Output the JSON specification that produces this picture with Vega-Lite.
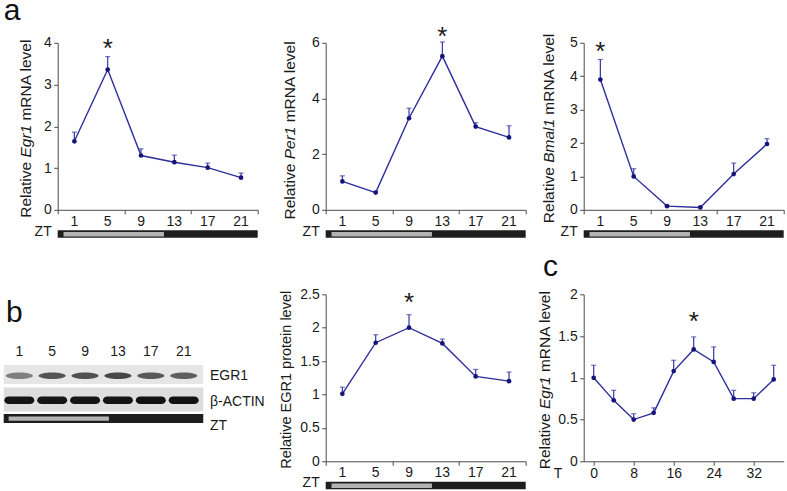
{
"$schema": "https://vega.github.io/schema/vega-lite/v6.json",
"background": "white",
"padding": {"left": 2.7, "top": -4.2, "right": 0, "bottom": 0},
"config": {
 "view": {"stroke": null},
 "font": "Liberation Sans",
 "axis": {"domainColor": "#4a4a4a", "tickColor": "#4a4a4a", "labelColor": "#1a1a1a", "labelFont": "Liberation Sans", "labelFontSize": 14, "titleFont": "Liberation Sans", "titleFontWeight": "normal", "titleColor": "#1a1a1a", "titleFontSize": 14, "grid": false, "tickSize": 4, "labelFlush": false, "labelOverlap": false, "labelBound": false, "domainWidth": 1, "tickWidth": 1},
 "text": {"font": "Liberation Sans", "color": "#1a1a1a"}
},
"datasets": {
 "zt": [{"phase": "dark", "start": -1, "end": 23}, {"phase": "light", "start": -0.3, "end": 11.75}],
 "egr1": [{"ZT": 1, "mean": 1.64, "err": 1.86, "sig": false}, {"ZT": 5, "mean": 3.36, "err": 3.67, "sig": true}, {"ZT": 9, "mean": 1.30, "err": 1.46, "sig": false}, {"ZT": 13, "mean": 1.14, "err": 1.31, "sig": false}, {"ZT": 17, "mean": 1.01, "err": 1.12, "sig": false}, {"ZT": 21, "mean": 0.77, "err": 0.88, "sig": false}],
 "per1": [{"ZT": 1, "mean": 1.02, "err": 1.22, "sig": false}, {"ZT": 5, "mean": 0.62, "err": 0.66, "sig": false}, {"ZT": 9, "mean": 3.29, "err": 3.65, "sig": false}, {"ZT": 13, "mean": 5.52, "err": 6.03, "sig": true}, {"ZT": 17, "mean": 2.99, "err": 3.13, "sig": false}, {"ZT": 21, "mean": 2.60, "err": 3.02, "sig": false}],
 "bmal1": [{"ZT": 1, "mean": 3.90, "err": 4.50, "sig": true}, {"ZT": 5, "mean": 1.00, "err": 1.23, "sig": false}, {"ZT": 9, "mean": 0.11, "err": 0.13, "sig": false}, {"ZT": 13, "mean": 0.07, "err": 0.09, "sig": false}, {"ZT": 17, "mean": 1.07, "err": 1.40, "sig": false}, {"ZT": 21, "mean": 1.97, "err": 2.13, "sig": false}],
 "protein": [{"ZT": 1, "mean": 1.01, "err": 1.11, "sig": false}, {"ZT": 5, "mean": 1.775, "err": 1.895, "sig": false}, {"ZT": 9, "mean": 2.00, "err": 2.195, "sig": true}, {"ZT": 13, "mean": 1.765, "err": 1.83, "sig": false}, {"ZT": 17, "mean": 1.27, "err": 1.375, "sig": false}, {"ZT": 21, "mean": 1.20, "err": 1.335, "sig": false}],
 "cosc": [{"T": 0, "mean": 1.00, "err": 1.15, "sig": false}, {"T": 4, "mean": 0.73, "err": 0.85, "sig": false}, {"T": 8, "mean": 0.50, "err": 0.57, "sig": false}, {"T": 12, "mean": 0.58, "err": 0.64, "sig": false}, {"T": 16, "mean": 1.08, "err": 1.21, "sig": false}, {"T": 20, "mean": 1.34, "err": 1.49, "sig": true}, {"T": 24, "mean": 1.19, "err": 1.37, "sig": false}, {"T": 28, "mean": 0.75, "err": 0.85, "sig": false}, {"T": 32, "mean": 0.75, "err": 0.82, "sig": false}, {"T": 36, "mean": 0.98, "err": 1.15, "sig": false}],
 "blot": [{"ZT": 1, "protein": "EGR1", "intensity": 0.55}, {"ZT": 5, "protein": "EGR1", "intensity": 0.78}, {"ZT": 9, "protein": "EGR1", "intensity": 0.8}, {"ZT": 13, "protein": "EGR1", "intensity": 0.85}, {"ZT": 17, "protein": "EGR1", "intensity": 0.75}, {"ZT": 21, "protein": "EGR1", "intensity": 0.72}, {"ZT": 1, "protein": "ACTIN", "intensity": 0.95}, {"ZT": 5, "protein": "ACTIN", "intensity": 0.95}, {"ZT": 9, "protein": "ACTIN", "intensity": 0.95}, {"ZT": 13, "protein": "ACTIN", "intensity": 0.95}, {"ZT": 17, "protein": "ACTIN", "intensity": 0.97}, {"ZT": 21, "protein": "ACTIN", "intensity": 0.97}]
},
"columns": 3,
"spacing": {"row": 84.5, "column": 58},
"bounds": "flush",
"concat": [
 {
  "width": 200, "height": 167,
  "resolve": {"scale": {"y": "independent"}},
  "layer": [
   {"data": {"name": "zt"}, "layer": [
    {"transform": [{"filter": "datum.phase == 'dark'"}], "mark": {"type": "rect", "color": "#1e1e1e"},
     "encoding": {"x": {"field": "start", "type": "quantitative", "scale": {"domain": [-1, 23], "nice": false, "zero": false}, "axis": {"values": [-1, 3, 7, 11, 15, 19, 23], "labels": false, "title": "ZT", "titleX": -6.5, "titleY": 21.5, "titleAlign": "right", "titleBaseline": "middle", "titleAngle": 0}}, "x2": {"field": "end"}, "y": {"datum": -0.1228, "type": "quantitative", "scale": {"domain": [0, 1], "nice": false}, "axis": null}, "y2": {"datum": -0.1677}}},
    {"transform": [{"filter": "datum.phase == 'light'"}], "mark": {"type": "rect", "color": "#b3b3b3"},
     "encoding": {"x": {"field": "start", "type": "quantitative", "scale": {"domain": [-1, 23], "nice": false, "zero": false}}, "x2": {"field": "end"}, "y": {"datum": -0.1329, "type": "quantitative", "scale": {"domain": [0, 1], "nice": false}}, "y2": {"datum": -0.1593}}}
   ]},
   {"data": {"name": "egr1"},
    "encoding": {"x": {"field": "ZT", "type": "quantitative", "scale": {"domain": [-1, 23], "nice": false, "zero": false}}, "y": {"field": "mean", "type": "quantitative", "scale": {"domain": [0, 4], "nice": false}, "axis": {"values": [0, 1, 2, 3, 4], "title": null, "orient": "left", "labelPadding": 2.5}}},
    "layer": [
     {"mark": {"type": "rule", "color": "#3636a4", "strokeWidth": 1.2}, "encoding": {"y2": {"field": "err"}}},
     {"mark": {"type": "tick", "orient": "horizontal", "color": "#3636a4", "size": 5, "thickness": 1.2}, "encoding": {"y": {"field": "err", "type": "quantitative", "scale": {"domain": [0, 4], "nice": false}}}},
     {"mark": {"type": "line", "color": "#2e2e9c", "strokeWidth": 1.4}},
     {"mark": {"type": "point", "filled": true, "color": "#14147a", "size": 22, "opacity": 1}},
     {"transform": [{"filter": "datum.sig"}], "mark": {"type": "text", "text": "*", "fontSize": 26, "baseline": "alphabetic", "dy": 0.6}, "encoding": {"y": {"field": "err", "type": "quantitative", "scale": {"domain": [0, 4], "nice": false}}}}
    ]},
   {"data": {"name": "egr1"}, "mark": {"type": "text", "fontSize": 14, "baseline": "middle", "align": "center", "dy": 12.5}, "encoding": {"x": {"field": "ZT", "type": "quantitative", "scale": {"domain": [-1, 23], "nice": false, "zero": false}}, "y": {"datum": 0, "type": "quantitative", "scale": {"domain": [0, 4], "nice": false}, "axis": null}, "text": {"field": "ZT", "type": "quantitative"}}},
   {"data": {"values": [{}]}, "layer": [
     {"mark": {"type": "text", "text": "a", "fontSize": 30, "align": "left", "baseline": "alphabetic", "dx": -54, "dy": -22.5, "color": "#111111"}, "encoding": {"x": {"datum": -1, "type": "quantitative", "scale": {"domain": [-1, 23], "nice": false, "zero": false}}, "y": {"datum": 4, "type": "quantitative", "scale": {"domain": [0, 4], "nice": false}, "axis": null}}},
     {"mark": {"type": "text", "text": "Relative", "angle": 270, "align": "right", "baseline": "middle", "fontSize": 15.5, "dx": -35.55, "dy": -32}, "encoding": {"x": {"datum": -1, "type": "quantitative"}, "y": {"datum": 2, "type": "quantitative"}}},
     {"mark": {"type": "text", "text": "Egr1", "fontStyle": "italic", "angle": 270, "align": "center", "baseline": "middle", "fontSize": 15.5, "dx": -14.9, "dy": -32}, "encoding": {"x": {"datum": -1, "type": "quantitative"}, "y": {"datum": 2, "type": "quantitative"}}},
     {"mark": {"type": "text", "text": "mRNA level", "angle": 270, "align": "left", "baseline": "middle", "fontSize": 15.5, "dx": 5.75, "dy": -32}, "encoding": {"x": {"datum": -1, "type": "quantitative"}, "y": {"datum": 2, "type": "quantitative"}}}
   ]}
  ]
 },
 {
  "width": 200, "height": 167,
  "resolve": {"scale": {"y": "independent"}},
  "layer": [
   {"data": {"name": "zt"}, "layer": [
    {"transform": [{"filter": "datum.phase == 'dark'"}], "mark": {"type": "rect", "color": "#1e1e1e"},
     "encoding": {"x": {"field": "start", "type": "quantitative", "scale": {"domain": [-1, 23], "nice": false, "zero": false}, "axis": {"values": [-1, 3, 7, 11, 15, 19, 23], "labels": false, "title": "ZT", "titleX": -6.5, "titleY": 21.5, "titleAlign": "right", "titleBaseline": "middle", "titleAngle": 0}}, "x2": {"field": "end"}, "y": {"datum": -0.1228, "type": "quantitative", "scale": {"domain": [0, 1], "nice": false}, "axis": null}, "y2": {"datum": -0.1677}}},
    {"transform": [{"filter": "datum.phase == 'light'"}], "mark": {"type": "rect", "color": "#b3b3b3"},
     "encoding": {"x": {"field": "start", "type": "quantitative", "scale": {"domain": [-1, 23], "nice": false, "zero": false}}, "x2": {"field": "end"}, "y": {"datum": -0.1329, "type": "quantitative", "scale": {"domain": [0, 1], "nice": false}}, "y2": {"datum": -0.1593}}}
   ]},
   {"data": {"name": "per1"},
    "encoding": {"x": {"field": "ZT", "type": "quantitative", "scale": {"domain": [-1, 23], "nice": false, "zero": false}}, "y": {"field": "mean", "type": "quantitative", "scale": {"domain": [0, 6], "nice": false}, "axis": {"values": [0, 2, 4, 6], "title": null, "orient": "left", "labelPadding": 2.5}}},
    "layer": [
     {"mark": {"type": "rule", "color": "#3636a4", "strokeWidth": 1.2}, "encoding": {"y2": {"field": "err"}}},
     {"mark": {"type": "tick", "orient": "horizontal", "color": "#3636a4", "size": 5, "thickness": 1.2}, "encoding": {"y": {"field": "err", "type": "quantitative", "scale": {"domain": [0, 6], "nice": false}}}},
     {"mark": {"type": "line", "color": "#2e2e9c", "strokeWidth": 1.4}},
     {"mark": {"type": "point", "filled": true, "color": "#14147a", "size": 22, "opacity": 1}},
     {"transform": [{"filter": "datum.sig"}], "mark": {"type": "text", "text": "*", "fontSize": 26, "baseline": "alphabetic", "dy": 3.4}, "encoding": {"y": {"field": "err", "type": "quantitative", "scale": {"domain": [0, 6], "nice": false}}}}
    ]},
   {"data": {"name": "per1"}, "mark": {"type": "text", "fontSize": 14, "baseline": "middle", "align": "center", "dy": 12.5}, "encoding": {"x": {"field": "ZT", "type": "quantitative", "scale": {"domain": [-1, 23], "nice": false, "zero": false}}, "y": {"datum": 0, "type": "quantitative", "scale": {"domain": [0, 6], "nice": false}, "axis": null}, "text": {"field": "ZT", "type": "quantitative"}}},
   {"data": {"values": [{}]}, "layer": [
     {"mark": {"type": "text", "text": "Relative", "angle": 270, "align": "right", "baseline": "middle", "fontSize": 15.5, "dx": -37.3, "dy": -35.5}, "encoding": {"x": {"datum": -1, "type": "quantitative", "scale": {"domain": [-1, 23], "nice": false, "zero": false}}, "y": {"datum": 3, "type": "quantitative", "scale": {"domain": [0, 6], "nice": false}, "axis": null}}},
     {"mark": {"type": "text", "text": "Per1", "fontStyle": "italic", "angle": 270, "align": "center", "baseline": "middle", "fontSize": 15.5, "dx": -16.6, "dy": -35.5}, "encoding": {"x": {"datum": -1, "type": "quantitative"}, "y": {"datum": 3, "type": "quantitative"}}},
     {"mark": {"type": "text", "text": "mRNA level", "angle": 270, "align": "left", "baseline": "middle", "fontSize": 15.5, "dx": 4.0, "dy": -35.5}, "encoding": {"x": {"datum": -1, "type": "quantitative"}, "y": {"datum": 3, "type": "quantitative"}}}
   ]}
  ]
 },
 {
  "width": 200, "height": 167,
  "resolve": {"scale": {"y": "independent"}},
  "layer": [
   {"data": {"name": "zt"}, "layer": [
    {"transform": [{"filter": "datum.phase == 'dark'"}], "mark": {"type": "rect", "color": "#1e1e1e"},
     "encoding": {"x": {"field": "start", "type": "quantitative", "scale": {"domain": [-1, 23], "nice": false, "zero": false}, "axis": {"values": [-1, 3, 7, 11, 15, 19, 23], "labels": false, "title": "ZT", "titleX": -6.5, "titleY": 21.5, "titleAlign": "right", "titleBaseline": "middle", "titleAngle": 0}}, "x2": {"field": "end"}, "y": {"datum": -0.1228, "type": "quantitative", "scale": {"domain": [0, 1], "nice": false}, "axis": null}, "y2": {"datum": -0.1677}}},
    {"transform": [{"filter": "datum.phase == 'light'"}], "mark": {"type": "rect", "color": "#b3b3b3"},
     "encoding": {"x": {"field": "start", "type": "quantitative", "scale": {"domain": [-1, 23], "nice": false, "zero": false}}, "x2": {"field": "end"}, "y": {"datum": -0.1329, "type": "quantitative", "scale": {"domain": [0, 1], "nice": false}}, "y2": {"datum": -0.1593}}}
   ]},
   {"data": {"name": "bmal1"},
    "encoding": {"x": {"field": "ZT", "type": "quantitative", "scale": {"domain": [-1, 23], "nice": false, "zero": false}}, "y": {"field": "mean", "type": "quantitative", "scale": {"domain": [0, 5], "nice": false}, "axis": {"values": [0, 1, 2, 3, 4, 5], "title": null, "orient": "left", "labelPadding": 2.5}}},
    "layer": [
     {"mark": {"type": "rule", "color": "#3636a4", "strokeWidth": 1.2}, "encoding": {"y2": {"field": "err"}}},
     {"mark": {"type": "tick", "orient": "horizontal", "color": "#3636a4", "size": 5, "thickness": 1.2}, "encoding": {"y": {"field": "err", "type": "quantitative", "scale": {"domain": [0, 5], "nice": false}}}},
     {"mark": {"type": "line", "color": "#2e2e9c", "strokeWidth": 1.4}},
     {"mark": {"type": "point", "filled": true, "color": "#14147a", "size": 22, "opacity": 1}},
     {"transform": [{"filter": "datum.sig"}], "mark": {"type": "text", "text": "*", "fontSize": 26, "baseline": "alphabetic", "dy": 0.7}, "encoding": {"y": {"field": "err", "type": "quantitative", "scale": {"domain": [0, 5], "nice": false}}}}
    ]},
   {"data": {"name": "bmal1"}, "mark": {"type": "text", "fontSize": 14, "baseline": "middle", "align": "center", "dy": 12.5}, "encoding": {"x": {"field": "ZT", "type": "quantitative", "scale": {"domain": [-1, 23], "nice": false, "zero": false}}, "y": {"datum": 0, "type": "quantitative", "scale": {"domain": [0, 5], "nice": false}, "axis": null}, "text": {"field": "ZT", "type": "quantitative"}}},
   {"data": {"values": [{}]}, "layer": [
     {"mark": {"type": "text", "text": "Relative", "angle": 270, "align": "right", "baseline": "middle", "fontSize": 15.5, "dx": -40.9, "dy": -35}, "encoding": {"x": {"datum": -1, "type": "quantitative", "scale": {"domain": [-1, 23], "nice": false, "zero": false}}, "y": {"datum": 2.5, "type": "quantitative", "scale": {"domain": [0, 5], "nice": false}, "axis": null}}},
     {"mark": {"type": "text", "text": "Bmal1", "fontStyle": "italic", "angle": 270, "align": "center", "baseline": "middle", "fontSize": 15.5, "dx": -14.6, "dy": -35}, "encoding": {"x": {"datum": -1, "type": "quantitative"}, "y": {"datum": 2.5, "type": "quantitative"}}},
     {"mark": {"type": "text", "text": "mRNA level", "angle": 270, "align": "left", "baseline": "middle", "fontSize": 15.5, "dx": 11.6, "dy": -35}, "encoding": {"x": {"datum": -1, "type": "quantitative"}, "y": {"datum": 2.5, "type": "quantitative"}}}
   ]}
  ]
 },
 {
  "width": 210, "height": 167,
  "layer": [
   {"data": {"values": [{}]}, "mark": {"type": "rect", "color": "#e6e6e6"}, "encoding": {"x": {"datum": -0.9, "type": "quantitative", "scale": {"domain": [5.67, 31.22], "nice": false, "zero": false}, "axis": null}, "x2": {"datum": 23.38}, "y": {"datum": 70.8, "type": "quantitative", "scale": {"domain": [0, 167], "reverse": true, "nice": false, "zero": false}, "axis": null}, "y2": {"datum": 89.8}}},
   {"data": {"values": [{}]}, "mark": {"type": "rect", "color": "#dddddd"}, "encoding": {"x": {"datum": -0.9, "type": "quantitative"}, "x2": {"datum": 23.38}, "y": {"datum": 93.2, "type": "quantitative"}, "y2": {"datum": 117.2}}},
   {"data": {"values": [{}]}, "mark": {"type": "rect", "color": "#1e1e1e"}, "encoding": {"x": {"datum": -0.9, "type": "quantitative"}, "x2": {"datum": 23.38}, "y": {"datum": 119.8, "type": "quantitative"}, "y2": {"datum": 128.8}}},
   {"data": {"values": [{}]}, "mark": {"type": "rect", "color": "#b3b3b3"}, "encoding": {"x": {"datum": -0.3, "type": "quantitative"}, "x2": {"datum": 11.9}, "y": {"datum": 122.2, "type": "quantitative"}, "y2": {"datum": 126.5}}},
   {"data": {"name": "blot"}, "transform": [{"filter": "datum.protein == 'EGR1'"}], "mark": {"type": "point", "filled": true, "color": "#2a2a2a", "size": 729, "shape": "M -1 0 A 1 0.24 0 1 1 1 0 A 1 0.24 0 1 1 -1 0 Z"}, "encoding": {"x": {"field": "ZT", "type": "quantitative"}, "y": {"datum": 81.5, "type": "quantitative"}, "opacity": {"field": "intensity", "type": "quantitative", "scale": {"domain": [0, 1], "range": [0, 1]}, "legend": null}}},
   {"data": {"name": "blot"}, "transform": [{"filter": "datum.protein == 'ACTIN'"}], "mark": {"type": "point", "filled": true, "color": "#0a0a0a", "size": 900, "shape": "M -0.7 -0.25 L 0.7 -0.25 A 0.3 0.25 0 0 1 0.7 0.25 L -0.7 0.25 A 0.3 0.25 0 0 1 -0.7 -0.25 Z"}, "encoding": {"x": {"field": "ZT", "type": "quantitative"}, "y": {"datum": 106, "type": "quantitative"}, "opacity": {"field": "intensity", "type": "quantitative", "scale": {"domain": [0, 1], "range": [0, 1]}, "legend": null}}},
   {"data": {"name": "blot"}, "transform": [{"filter": "datum.protein == 'EGR1'"}], "mark": {"type": "text", "fontSize": 14, "baseline": "middle", "align": "center"}, "encoding": {"x": {"field": "ZT", "type": "quantitative"}, "y": {"datum": 58, "type": "quantitative"}, "text": {"field": "ZT", "type": "quantitative"}}},
   {"data": {"values": [{}]}, "mark": {"type": "text", "text": "EGR1", "fontSize": 14, "baseline": "middle", "align": "left"}, "encoding": {"x": {"datum": 24.2, "type": "quantitative"}, "y": {"datum": 82.2, "type": "quantitative"}}},
   {"data": {"values": [{}]}, "mark": {"type": "text", "text": "β-ACTIN", "fontSize": 14, "baseline": "middle", "align": "left"}, "encoding": {"x": {"datum": 24.2, "type": "quantitative"}, "y": {"datum": 107.5, "type": "quantitative"}}},
   {"data": {"values": [{}]}, "mark": {"type": "text", "text": "ZT", "fontSize": 14, "baseline": "middle", "align": "left"}, "encoding": {"x": {"datum": 24.2, "type": "quantitative"}, "y": {"datum": 131.8, "type": "quantitative"}}},
   {"data": {"values": [{}]}, "mark": {"type": "text", "text": "b", "fontSize": 30, "baseline": "alphabetic", "align": "left", "color": "#111111"}, "encoding": {"x": {"datum": -0.62, "type": "quantitative"}, "y": {"datum": 28.2, "type": "quantitative"}}}
  ]
 },
 {
  "width": 200, "height": 167,
  "resolve": {"scale": {"y": "independent"}},
  "layer": [
   {"data": {"name": "zt"}, "layer": [
    {"transform": [{"filter": "datum.phase == 'dark'"}], "mark": {"type": "rect", "color": "#1e1e1e"},
     "encoding": {"x": {"field": "start", "type": "quantitative", "scale": {"domain": [-1, 23], "nice": false, "zero": false}, "axis": {"values": [-1, 3, 7, 11, 15, 19, 23], "labels": false, "title": "ZT", "titleX": -6.5, "titleY": 21.5, "titleAlign": "right", "titleBaseline": "middle", "titleAngle": 0}}, "x2": {"field": "end"}, "y": {"datum": -0.1228, "type": "quantitative", "scale": {"domain": [0, 1], "nice": false}, "axis": null}, "y2": {"datum": -0.1677}}},
    {"transform": [{"filter": "datum.phase == 'light'"}], "mark": {"type": "rect", "color": "#b3b3b3"},
     "encoding": {"x": {"field": "start", "type": "quantitative", "scale": {"domain": [-1, 23], "nice": false, "zero": false}}, "x2": {"field": "end"}, "y": {"datum": -0.1329, "type": "quantitative", "scale": {"domain": [0, 1], "nice": false}}, "y2": {"datum": -0.1593}}}
   ]},
   {"data": {"name": "protein"},
    "encoding": {"x": {"field": "ZT", "type": "quantitative", "scale": {"domain": [-1, 23], "nice": false, "zero": false}}, "y": {"field": "mean", "type": "quantitative", "scale": {"domain": [0, 2.5], "nice": false}, "axis": {"values": [0, 0.5, 1, 1.5, 2, 2.5], "format": "~g", "title": null, "orient": "left", "labelPadding": 2.5}}},
    "layer": [
     {"mark": {"type": "rule", "color": "#3636a4", "strokeWidth": 1.2}, "encoding": {"y2": {"field": "err"}}},
     {"mark": {"type": "tick", "orient": "horizontal", "color": "#3636a4", "size": 5, "thickness": 1.2}, "encoding": {"y": {"field": "err", "type": "quantitative", "scale": {"domain": [0, 2.5], "nice": false}}}},
     {"mark": {"type": "line", "color": "#2e2e9c", "strokeWidth": 1.4}},
     {"mark": {"type": "point", "filled": true, "color": "#14147a", "size": 22, "opacity": 1}},
     {"transform": [{"filter": "datum.sig"}], "mark": {"type": "text", "text": "*", "fontSize": 26, "baseline": "alphabetic", "dy": -3.7}, "encoding": {"y": {"field": "err", "type": "quantitative", "scale": {"domain": [0, 2.5], "nice": false}}}}
    ]},
   {"data": {"name": "protein"}, "mark": {"type": "text", "fontSize": 14, "baseline": "middle", "align": "center", "dy": 11.5}, "encoding": {"x": {"field": "ZT", "type": "quantitative", "scale": {"domain": [-1, 23], "nice": false, "zero": false}}, "y": {"datum": 0, "type": "quantitative", "scale": {"domain": [0, 2.5], "nice": false}, "axis": null}, "text": {"field": "ZT", "type": "quantitative"}}},
   {"data": {"values": [{}]}, "layer": [
     {"mark": {"type": "text", "text": "Relative EGR1 protein level", "angle": 270, "align": "center", "baseline": "middle", "fontSize": 14.5, "dx": -2, "dy": -39}, "encoding": {"x": {"datum": -1, "type": "quantitative", "scale": {"domain": [-1, 23], "nice": false, "zero": false}}, "y": {"datum": 1.25, "type": "quantitative", "scale": {"domain": [0, 2.5], "nice": false}, "axis": null}}}
   ]}
  ]
 },
 {
  "width": 200, "height": 167,
  "layer": [
   {"data": {"name": "cosc"},
    "encoding": {"x": {"field": "T", "type": "quantitative", "scale": {"domain": [-2, 38], "nice": false, "zero": false}, "axis": {"values": [0, 8, 16, 24, 32], "labelOverlap": false, "labelFlush": false, "title": "T", "titleX": -21.8, "titleY": 12, "titleAlign": "right", "titleBaseline": "middle", "titleAngle": 0, "labelPadding": 1.5}}, "y": {"field": "mean", "type": "quantitative", "scale": {"domain": [0, 2], "nice": false}, "axis": {"values": [0, 0.5, 1, 1.5, 2], "format": "~g", "title": null, "orient": "left", "labelPadding": 2.5}}},
    "layer": [
     {"mark": {"type": "rule", "color": "#3636a4", "strokeWidth": 1.2}, "encoding": {"y2": {"field": "err"}}},
     {"mark": {"type": "tick", "orient": "horizontal", "color": "#3636a4", "size": 5, "thickness": 1.2}, "encoding": {"y": {"field": "err", "type": "quantitative", "scale": {"domain": [0, 2], "nice": false}}}},
     {"mark": {"type": "line", "color": "#2e2e9c", "strokeWidth": 1.4}},
     {"mark": {"type": "point", "filled": true, "color": "#14147a", "size": 22, "opacity": 1}},
     {"transform": [{"filter": "datum.sig"}], "mark": {"type": "text", "text": "*", "fontSize": 26, "baseline": "alphabetic", "dy": -6.9}, "encoding": {"y": {"field": "err", "type": "quantitative", "scale": {"domain": [0, 2], "nice": false}}}}
    ]},
   {"data": {"values": [{}]}, "layer": [
     {"mark": {"type": "text", "text": "c", "fontSize": 30, "align": "left", "baseline": "alphabetic", "dx": -40.8, "dy": -17.8, "color": "#111111"}, "encoding": {"x": {"datum": -2, "type": "quantitative", "scale": {"domain": [-2, 38], "nice": false, "zero": false}}, "y": {"datum": 2, "type": "quantitative", "scale": {"domain": [0, 2], "nice": false}}}},
     {"mark": {"type": "text", "text": "Relative", "angle": 270, "align": "right", "baseline": "middle", "fontSize": 15.5, "dx": -35.55, "dy": -39}, "encoding": {"x": {"datum": -2, "type": "quantitative", "scale": {"domain": [-2, 38], "nice": false, "zero": false}}, "y": {"datum": 1, "type": "quantitative", "scale": {"domain": [0, 2], "nice": false}}}},
     {"mark": {"type": "text", "text": "Egr1", "fontStyle": "italic", "angle": 270, "align": "center", "baseline": "middle", "fontSize": 15.5, "dx": -14.9, "dy": -39}, "encoding": {"x": {"datum": -2, "type": "quantitative", "scale": {"domain": [-2, 38], "nice": false, "zero": false}}, "y": {"datum": 1, "type": "quantitative", "scale": {"domain": [0, 2], "nice": false}}}},
     {"mark": {"type": "text", "text": "mRNA level", "angle": 270, "align": "left", "baseline": "middle", "fontSize": 15.5, "dx": 5.75, "dy": -39}, "encoding": {"x": {"datum": -2, "type": "quantitative", "scale": {"domain": [-2, 38], "nice": false, "zero": false}}, "y": {"datum": 1, "type": "quantitative", "scale": {"domain": [0, 2], "nice": false}}}}
   ]}
  ]
 }
]
}
